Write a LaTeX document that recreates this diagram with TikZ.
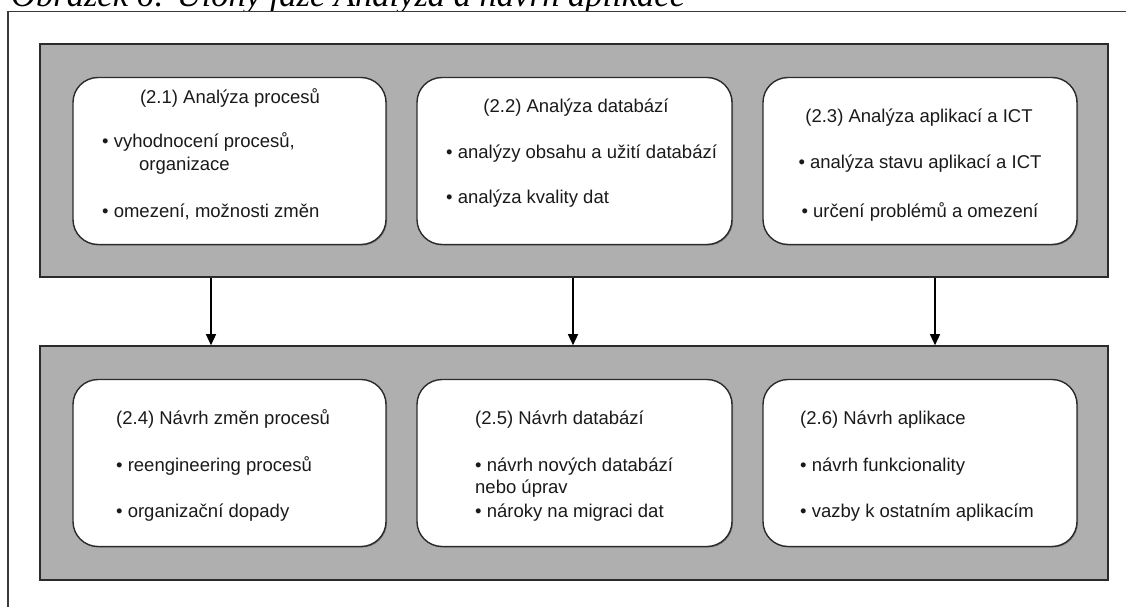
\documentclass[tikz,border=0pt]{standalone}
\usepackage{fontspec}
\setmainfont{Liberation Sans}
\newfontfamily\captionfont{Liberation Serif}
\usetikzlibrary{arrows.meta,shadows}

\definecolor{panelgray}{HTML}{AFAFAF}
\definecolor{edgecol}{HTML}{2B2B2B}
\definecolor{ink}{HTML}{1A1A1A}
\definecolor{framecol}{HTML}{3A3A3A}

\begin{document}
\begin{tikzpicture}[x=1pt,y=-1pt,
  panel/.style={draw=edgecol, line width=1.6pt, fill=panelgray,
    minimum width=1068pt, inner sep=0pt,
    drop shadow={shadow xshift=1.2pt, shadow yshift=-1.2pt, opacity=0.35, fill=black}},
  card/.style={draw=edgecol, line width=1.4pt, fill=white, rounded corners=25pt,
    minimum height=167pt, inner sep=0pt,
    drop shadow={shadow xshift=1pt, shadow yshift=-1pt, opacity=0.3, fill=black}},
  txt/.style={inner sep=0pt, text=ink, font=\fontsize{18.5}{22}\selectfont},
  flow/.style={draw=black, line width=1.4pt, -{Triangle[length=11pt, width=10pt]}},
  framestyle/.style={draw=framecol, line width=1.6pt}]

\useasboundingbox (0,0) rectangle (1126,607);

% caption line above the frame, only its lower part lies inside the page
\begin{scope}
  \clip (0,0) rectangle (1126,11);
  \node[inner sep=0pt, anchor=base west, text=black] (caption) at (11,7)
    {\captionfont\itshape\fontsize{34.5}{40}\selectfont Obrázek 6: Úlohy fáze Analýza a návrh aplikace};
\end{scope}

% outer frame
\draw[framestyle] (8,607) -- (8,11.5) -- (1126,11.5);

% the two phase panels
\node[panel, minimum height=233pt] (analysis) at (574,160.5) {};
\node[panel, minimum height=234pt] (design) at (574,463) {};

% analysis cards
\node[card, minimum width=313pt] (c1) at (229.5,161) {};
\node[card, minimum width=315pt] (c2) at (574.5,161) {};
\node[card, minimum width=314pt] (c3) at (920,161) {};

% design cards
\node[card, minimum width=313pt] (c4) at (229.5,463) {};
\node[card, minimum width=315pt] (c5) at (574.5,463) {};
\node[card, minimum width=314pt] (c6) at (920,463) {};

% (2.1)
\node[txt, anchor=base] (t1) at (230,103) {(2.1) Analýza procesů};
\node[txt, anchor=base west] (t1a) at (102,147) {• vyhodnocení procesů,};
\node[txt, anchor=base west] (t1b) at (139,170) {organizace};
\node[txt, anchor=base west] (t1c) at (102,217) {• omezení, možnosti změn};

% (2.2)
\node[txt, anchor=base] (t2) at (576,113) {(2.2) Analýza databází};
\node[txt, anchor=base west] (t2a) at (446,158) {• analýzy obsahu a užití databází};
\node[txt, anchor=base west] (t2b) at (446,203) {• analýza kvality dat};

% (2.3)
\node[txt, anchor=base] (t3) at (919,123) {(2.3) Analýza aplikací a ICT};
\node[txt, anchor=base] (t3a) at (920,168) {• analýza stavu aplikací a ICT};
\node[txt, anchor=base] (t3b) at (920,217) {• určení problémů a omezení};

% (2.4)
\node[txt, anchor=base west] (t4) at (116,424) {(2.4) Návrh změn procesů};
\node[txt, anchor=base west] (t4a) at (116,471) {• reengineering procesů};
\node[txt, anchor=base west] (t4b) at (116,517) {• organizační dopady};

% (2.5)
\node[txt, anchor=base west] (t5) at (475,424) {(2.5) Návrh databází};
\node[txt, anchor=base west] (t5a) at (475,471) {• návrh nových databází};
\node[txt, anchor=base west] (t5b) at (475,493) {nebo úprav};
\node[txt, anchor=base west] (t5c) at (475,517) {• nároky na migraci dat};

% (2.6)
\node[txt, anchor=base west] (t6) at (800,424) {(2.6) Návrh aplikace};
\node[txt, anchor=base west] (t6a) at (800,471) {• návrh funkcionality};
\node[txt, anchor=base west] (t6b) at (800,517) {• vazby k ostatním aplikacím};

% arrows from the analysis panel to the design panel
\coordinate (x1) at (211,0);
\coordinate (x2) at (573,0);
\coordinate (x3) at (935,0);
\draw[flow] (analysis.south -| x1) -- (design.north -| x1);
\draw[flow] (analysis.south -| x2) -- (design.north -| x2);
\draw[flow] (analysis.south -| x3) -- (design.north -| x3);

\end{tikzpicture}
\end{document}
